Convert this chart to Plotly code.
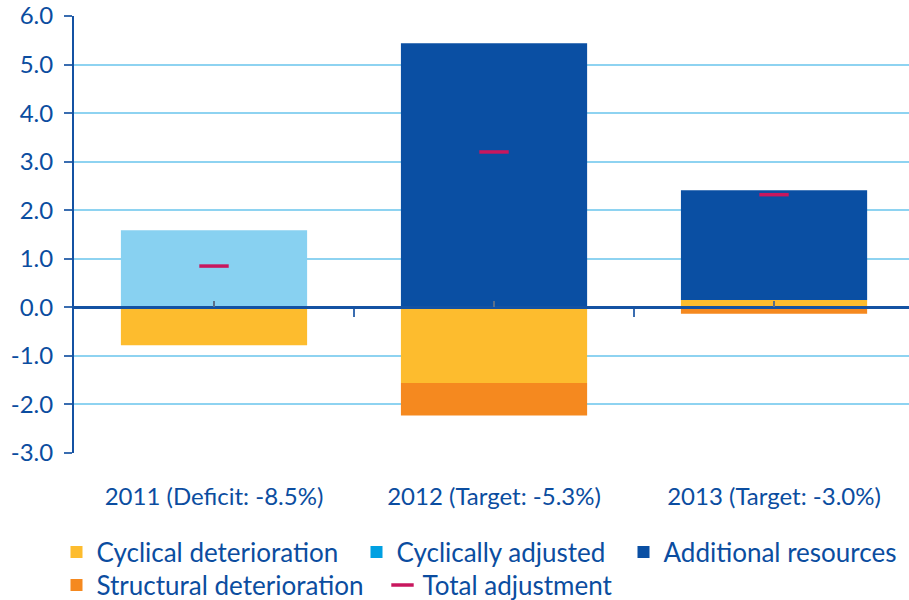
import plotly.graph_objects as go

categories = ["2011 (Deficit: -8.5%)", "2012 (Target: -5.3%)", "2013 (Target: -3.0%)"]
cyclical_deterioration = [-0.78, -1.56, 0.15]
cyclically_adjusted = [1.59, 0.0, 0.0]
additional_resources = [0.0, 5.44, 2.26]
structural_deterioration = [0.0, -0.67, -0.13]
total_adjustment = [0.85, 3.20, 2.32]
y_ticks = [6, 5, 4, 3, 2, 1, 0, -1, -2, -3]
y_tick_labels = [f"{v:.1f}" for v in y_ticks]

TXT = "#0B4DA0"
FONT = "Lato"
W, H = 909, 600
xs = list(range(len(categories)))

fig = go.Figure()
fig.add_bar(x=xs, y=cyclical_deterioration, name="Cyclical deterioration", legend="legend",
            marker=dict(color="#FDBC2E", line=dict(width=0)))
fig.add_bar(x=xs, y=cyclically_adjusted, name="Cyclically adjusted", showlegend=False,
            marker=dict(color="#88D1F1", line=dict(width=0)))
fig.add_bar(x=xs, y=[None] * 3, name="Cyclically adjusted", legend="legend2",
            marker=dict(color="#00A0E2", line=dict(width=0)))
fig.add_bar(x=xs, y=additional_resources, name="Additional resources", legend="legend3",
            marker=dict(color="#0A4FA3", line=dict(width=0)))
fig.add_bar(x=xs, y=structural_deterioration, name="Structural deterioration", legend="legend4",
            marker=dict(color="#F5891F", line=dict(width=0)))
fig.add_scatter(x=xs, y=total_adjustment, name="Total adjustment", mode="markers", legend="legend5",
                marker=dict(symbol="line-ew", size=21, color="#C8175E",
                            line=dict(width=3.5, color="#C8175E")))

rng = [-0.5, 2.482]


def leg(text_x, cy):
    return dict(orientation="h", xref="container", yref="container",
                x=(text_x - 40.5) / W, y=1 - cy / H, xanchor="left", yanchor="middle",
                font=dict(size=26, color=TXT, family=FONT), itemclick=False,
                bgcolor="rgba(0,0,0,0)")


fig.update_layout(
    width=W, height=H,
    margin=dict(l=74, r=0, t=16, b=H - 453, autoexpand=False),
    paper_bgcolor="white", plot_bgcolor="white",
    barmode="relative", bargap=0.335,
    font=dict(family=FONT, color=TXT, size=22),
    showlegend=True,
    legend=leg(97, 552),
    legend2=leg(397, 552),
    legend3=leg(664, 552),
    legend4=leg(97, 585),
    legend5=leg(423, 585),
    xaxis=dict(type="linear", range=rng, tickvals=xs, ticktext=categories,
               showgrid=False, zeroline=False, showline=False, ticks="",
               ticklabelstandoff=27, automargin=False,
               tickfont=dict(size=24, color=TXT)),
    xaxis2=dict(type="linear", range=rng, overlaying="x", anchor="free", position=1/3,
                side="bottom", tickvals=[0.5, 1.5], showticklabels=False,
                ticks="outside", ticklen=8, tickwidth=1.5, tickcolor="#3A6DB0",
                showline=True, linecolor="#1452A3", linewidth=2.5, automargin=False,
                showgrid=False, zeroline=False),
    xaxis3=dict(type="linear", range=rng, overlaying="x", anchor="free", position=1/3,
                side="bottom", tickvals=xs, showticklabels=False,
                ticks="inside", ticklen=6, tickwidth=1.5, tickcolor="#5A6F8A", automargin=False,
                showline=False, showgrid=False, zeroline=False),
    yaxis=dict(range=[-3, 6], tickvals=y_ticks, ticktext=y_tick_labels, automargin=False,
               showgrid=True, gridcolor="#8ED3F1", gridwidth=1.5,
               zeroline=False, showline=True, linecolor="#1452A3", linewidth=2,
               ticks="outside", ticklen=8, tickwidth=1.5, tickcolor="#3A6DB0",
               ticklabelstandoff=6,
               tickfont=dict(size=24, color=TXT)),
)
fig.add_scatter(x=[None], y=[None], xaxis="x2", showlegend=False, hoverinfo="skip")
fig.add_scatter(x=[None], y=[None], xaxis="x3", showlegend=False, hoverinfo="skip")

fig.write_html("out.html", config={"displayModeBar": False},
               post_script="document.body.style.margin='0';")
